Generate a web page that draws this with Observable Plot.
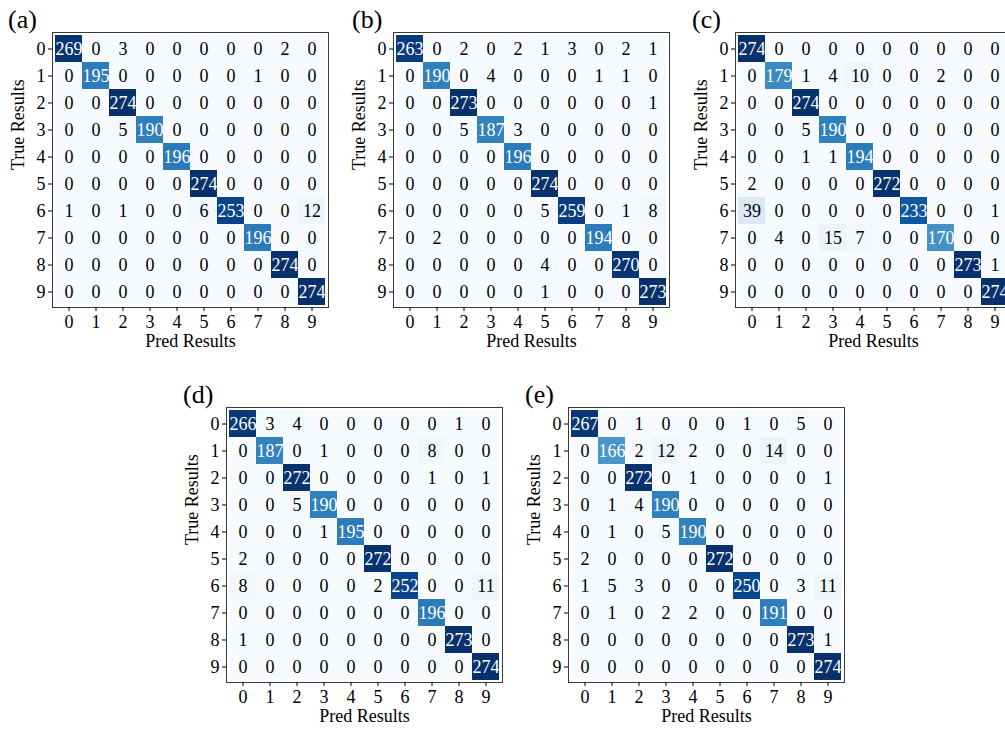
<!DOCTYPE html>
<html><head><meta charset="utf-8">
<script src="https://cdn.jsdelivr.net/npm/d3@7"></script>
<script src="https://cdn.jsdelivr.net/npm/@observablehq/plot@0.6"></script>
<style>
html,body{margin:0;padding:0;background:#fff;overflow:hidden;width:1005px;height:730px;}
#root{position:relative;width:1005px;height:730px;overflow:hidden;font-family:"Liberation Serif",serif;color:#000;}
.panel{position:absolute;overflow:visible;}
.panel svg{max-width:none !important;display:block;}
.tag{position:absolute;font-size:26px;line-height:26px;color:#000;font-family:"Liberation Serif",serif;white-space:nowrap;}
</style></head><body><div id="root"></div>
<script>
const classes = [0, 1, 2, 3, 4, 5, 6, 7, 8, 9];
const panelTags = ["(a)", "(b)", "(c)", "(d)", "(e)"];
const xLabel = "Pred Results";
const yLabel = "True Results";

const matA = [
  [269, 0, 3, 0, 0, 0, 0, 0, 2, 0],
  [0, 195, 0, 0, 0, 0, 0, 1, 0, 0],
  [0, 0, 274, 0, 0, 0, 0, 0, 0, 0],
  [0, 0, 5, 190, 0, 0, 0, 0, 0, 0],
  [0, 0, 0, 0, 196, 0, 0, 0, 0, 0],
  [0, 0, 0, 0, 0, 274, 0, 0, 0, 0],
  [1, 0, 1, 0, 0, 6, 253, 0, 0, 12],
  [0, 0, 0, 0, 0, 0, 0, 196, 0, 0],
  [0, 0, 0, 0, 0, 0, 0, 0, 274, 0],
  [0, 0, 0, 0, 0, 0, 0, 0, 0, 274]
];
const matB = [
  [263, 0, 2, 0, 2, 1, 3, 0, 2, 1],
  [0, 190, 0, 4, 0, 0, 0, 1, 1, 0],
  [0, 0, 273, 0, 0, 0, 0, 0, 0, 1],
  [0, 0, 5, 187, 3, 0, 0, 0, 0, 0],
  [0, 0, 0, 0, 196, 0, 0, 0, 0, 0],
  [0, 0, 0, 0, 0, 274, 0, 0, 0, 0],
  [0, 0, 0, 0, 0, 5, 259, 0, 1, 8],
  [0, 2, 0, 0, 0, 0, 0, 194, 0, 0],
  [0, 0, 0, 0, 0, 4, 0, 0, 270, 0],
  [0, 0, 0, 0, 0, 1, 0, 0, 0, 273]
];
const matC = [
  [274, 0, 0, 0, 0, 0, 0, 0, 0, 0],
  [0, 179, 1, 4, 10, 0, 0, 2, 0, 0],
  [0, 0, 274, 0, 0, 0, 0, 0, 0, 0],
  [0, 0, 5, 190, 0, 0, 0, 0, 0, 0],
  [0, 0, 1, 1, 194, 0, 0, 0, 0, 0],
  [2, 0, 0, 0, 0, 272, 0, 0, 0, 0],
  [39, 0, 0, 0, 0, 0, 233, 0, 0, 1],
  [0, 4, 0, 15, 7, 0, 0, 170, 0, 0],
  [0, 0, 0, 0, 0, 0, 0, 0, 273, 1],
  [0, 0, 0, 0, 0, 0, 0, 0, 0, 274]
];
const matD = [
  [266, 3, 4, 0, 0, 0, 0, 0, 1, 0],
  [0, 187, 0, 1, 0, 0, 0, 8, 0, 0],
  [0, 0, 272, 0, 0, 0, 0, 1, 0, 1],
  [0, 0, 5, 190, 0, 0, 0, 0, 0, 0],
  [0, 0, 0, 1, 195, 0, 0, 0, 0, 0],
  [2, 0, 0, 0, 0, 272, 0, 0, 0, 0],
  [8, 0, 0, 0, 0, 2, 252, 0, 0, 11],
  [0, 0, 0, 0, 0, 0, 0, 196, 0, 0],
  [1, 0, 0, 0, 0, 0, 0, 0, 273, 0],
  [0, 0, 0, 0, 0, 0, 0, 0, 0, 274]
];
const matE = [
  [267, 0, 1, 0, 0, 0, 1, 0, 5, 0],
  [0, 166, 2, 12, 2, 0, 0, 14, 0, 0],
  [0, 0, 272, 0, 1, 0, 0, 0, 0, 1],
  [0, 1, 4, 190, 0, 0, 0, 0, 0, 0],
  [0, 1, 0, 5, 190, 0, 0, 0, 0, 0],
  [2, 0, 0, 0, 0, 272, 0, 0, 0, 0],
  [1, 5, 3, 0, 0, 0, 250, 0, 3, 11],
  [0, 1, 0, 2, 2, 0, 0, 191, 0, 0],
  [0, 0, 0, 0, 0, 0, 0, 0, 273, 1],
  [0, 0, 0, 0, 0, 0, 0, 0, 0, 274]
];

const matrices = [matA, matB, matC, matD, matE];
// layout: frame left/top in page px, tag position
const layout = [
  {fx: 52, fy: 32, tx: 8, ty: 7},
  {fx: 393, fy: 32, tx: 352, ty: 7},
  {fx: 735, fy: 32, tx: 692, ty: 7},
  {fx: 226, fy: 407, tx: 183, ty: 382},
  {fx: 568, fy: 407, tx: 525, ty: 382}
];

const FW = 276, FH = 275;
const ML = 60, MT = 10, MR = 10, MB = 60;
const FS = 18;
const root = document.getElementById("root");

matrices.forEach((m, i) => {
  const rows = [];
  m.forEach((r, ti) => r.forEach((v, pi) => rows.push({t: ti, p: pi, v})));
  const vmax = d3.max(rows, d => d.v), vmin = d3.min(rows, d => d.v);
  const thresh = (vmax + vmin) / 2;
  const chart = Plot.plot({
    width: ML + FW + MR,
    height: MT + FH + MB,
    marginLeft: ML, marginTop: MT, marginRight: MR, marginBottom: MB,
    style: {fontFamily: "'Liberation Serif', serif", fontSize: FS + "px", background: "transparent", color: "#000", maxWidth: "none"},
    x: {domain: classes, type: "band", padding: 0, label: null},
    y: {domain: classes, type: "band", padding: 0, label: null},
    color: {type: "linear", scheme: "blues", domain: [vmin, vmax]},
    marks: [
      Plot.cell(rows, {x: "p", y: "t", fill: "v", inset: 0}),
      Plot.text(rows, {x: "p", y: "t", text: d => String(d.v), fill: d => d.v > thresh ? "#ffffff" : "#000000", fontSize: FS}),
      Plot.frame({stroke: "#3a3a3a", strokeWidth: 1}),
      Plot.axisX({tickSize: 4, tickPadding: 4, label: null, fontSize: FS}),
      Plot.axisY({tickSize: 4, tickPadding: 3, label: null, fontSize: FS}),
      Plot.text([xLabel], {frameAnchor: "bottom", dy: 39, fontSize: FS}),
      Plot.text([yLabel], {frameAnchor: "left", dx: -34, rotate: -90, fontSize: FS})
    ]
  });
  const wrap = document.createElement("div");
  wrap.className = "panel";
  wrap.style.left = (layout[i].fx - ML) + "px";
  wrap.style.top = (layout[i].fy - MT) + "px";
  wrap.style.width = (ML + FW + MR) + "px";
  wrap.style.height = (MT + FH + MB) + "px";
  wrap.appendChild(chart);
  root.appendChild(wrap);
  const tag = document.createElement("div");
  tag.className = "tag";
  tag.textContent = panelTags[i];
  tag.style.left = layout[i].tx + "px";
  tag.style.top = layout[i].ty + "px";
  root.appendChild(tag);
});
</script>
</body></html>
